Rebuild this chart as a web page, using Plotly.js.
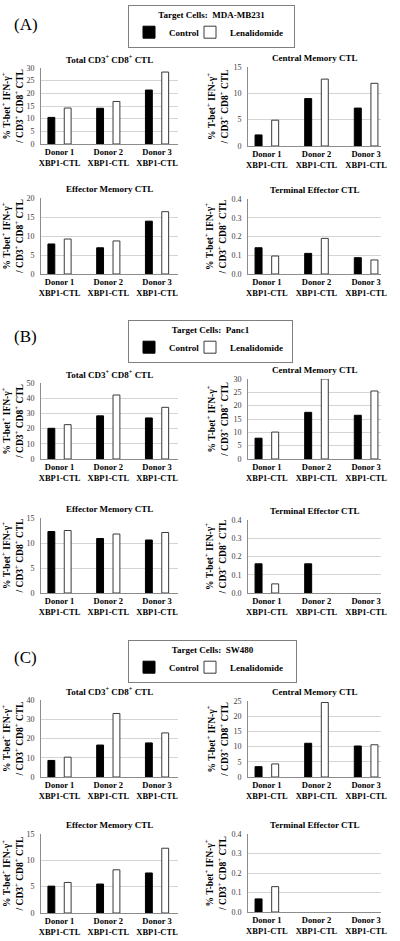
<!DOCTYPE html>
<html>
<head>
<meta charset="utf-8">
<script src="https://cdn.plot.ly/plotly-3.0.1.min.js"></script>
<style>html,body{margin:0;padding:0;background:#fff;}#chart{width:400px;height:941px;}</style>
</head>
<body>
<div id="chart"></div>
<script>
// ---- data ----
const donors = ['Donor 1<br>XBP1-CTL', 'Donor 2<br>XBP1-CTL', 'Donor 3<br>XBP1-CTL'];
const seriesNames = ['Control', 'Lenalidomide'];
const panelLabels = ['(A)', '(B)', '(C)'];
const targetCells = ['MDA-MB231', 'Panc1', 'SW480'];
const subsetTitles = ['Total CD3<sup>+</sup> CD8<sup>+</sup> CTL', 'Central Memory CTL', 'Effector Memory CTL', 'Terminal Effector CTL'];
const yTitle = '% T-bet<sup>+</sup> IFN-γ<sup>+</sup><br>/ CD3<sup>+</sup> CD8<sup>+</sup> CTL';

// Panel A (MDA-MB231)
const A_total_control = [10.5, 14.1, 21.3];
const A_total_len = [14.2, 16.8, 28.4];
const A_central_control = [2.1, 9.0, 7.2];
const A_central_len = [4.9, 12.7, 11.9];
const A_effector_control = [7.9, 6.9, 13.9];
const A_effector_len = [9.2, 8.7, 16.4];
const A_terminal_control = [0.14, 0.11, 0.087];
const A_terminal_len = [0.096, 0.19, 0.075];
// Panel B (Panc1)
const B_total_control = [20.2, 28.4, 27.0];
const B_total_len = [22.6, 42.1, 34.0];
const B_central_control = [7.8, 17.5, 16.4];
const B_central_len = [10.1, 30.0, 25.5];
const B_effector_control = [12.3, 10.9, 10.6];
const B_effector_len = [12.5, 11.8, 12.1];
const B_terminal_control = [0.16, 0.16, 0];
const B_terminal_len = [0.05, 0, 0];
// Panel C (SW480)
const C_total_control = [8.6, 16.6, 17.7];
const C_total_len = [10.3, 33.0, 22.9];
const C_central_control = [3.4, 11.1, 10.2];
const C_central_len = [4.3, 24.5, 10.6];
const C_effector_control = [5.1, 5.5, 7.6];
const C_effector_len = [5.8, 8.2, 12.3];
const C_terminal_control = [0.067, 0, 0];
const C_terminal_len = [0.13, 0, 0];

// axis maxima / tick steps per subplot
const yMax = [[30, 15, 20, 0.4], [50, 30, 15, 0.4], [40, 25, 15, 0.4]];
const yStep = [[5, 5, 5, 0.1], [10, 5, 5, 0.1], [10, 5, 5, 0.1]];

const panelData = [
  [[A_total_control, A_total_len], [A_central_control, A_central_len], [A_effector_control, A_effector_len], [A_terminal_control, A_terminal_len]],
  [[B_total_control, B_total_len], [B_central_control, B_central_len], [B_effector_control, B_effector_len], [B_terminal_control, B_terminal_len]],
  [[C_total_control, C_total_len], [C_central_control, C_central_len], [C_effector_control, C_effector_len], [C_terminal_control, C_terminal_len]]
];

// ---- geometry (pixels) ----
const W = 400, H = 941;
const px = v => v / W;
const py = v => 1 - v / H;
// [x0, x1, yTop, yZero] for each subplot, per panel
const geom = [
  [[41, 178, 68, 144], [248, 381, 67, 146], [41, 178, 198, 274], [248, 381, 199, 274]],
  [[41, 178, 383, 459], [248, 381, 379, 459], [41, 178, 518, 593], [248, 381, 520, 593]],
  [[41, 178, 700, 777], [248, 381, 701, 777], [41, 178, 834, 913], [248, 381, 834, 912]]
];
const legendGeom = [[128, 5], [128, 320], [128, 640]];
const legendBoxW = 167;
const labelGeom = [[12, 24], [12, 337], [12, 657]];

const serifName = 'Liberation Serif';
const serif = "'Liberation Serif', 'Times New Roman', 'DejaVu Serif', serif";
const colors = ['#000000', '#ffffff'];
const lineColors = ['#000000', '#3a3a3a'];
const legFont = 9;

// pad legend titles so every legend box has the same width
const cv = document.createElement('canvas').getContext('2d');
cv.font = 'bold ' + legFont + "px '" + serifName + "'";
const enSp = '\u2002';
const enW = cv.measureText(enSp).width || legFont / 2;
function padTitle(t) {
  const w = cv.measureText(t).width;
  const n = Math.max(0, Math.round((legendBoxW - 6 - w) / (2 * enW)));
  const p = enSp.repeat(n);
  return p + t + p;
}

const traces = [];
const layout = {
  width: W, height: H,
  margin: {l: 0, r: 0, t: 0, b: 0},
  paper_bgcolor: '#fff', plot_bgcolor: 'rgba(0,0,0,0)',
  font: {family: serif, color: '#000'},
  barmode: 'group', bargap: 0.33, bargroupgap: 0.58,
  annotations: [], showlegend: true
};

for (let p = 0; p < 3; p++) {
  const legId = p === 0 ? 'legend' : 'legend' + (p + 1);
  layout[legId] = {
    x: px(legendGeom[p][0]), xanchor: 'left', y: py(legendGeom[p][1]), yanchor: 'top',
    orientation: 'h', bordercolor: '#7f7f7f', borderwidth: 1, bgcolor: '#fff',
    font: {family: serif, size: legFont, weight: 'bold', color: '#000'},
    title: {text: padTitle('Target Cells:  ' + targetCells[p]), side: 'top center', font: {family: serif, size: legFont, weight: 'bold', color: '#000'}},
    entrywidth: 16, itemwidth: 30, tracegroupgap: 0
  };
  layout.annotations.push({
    text: panelLabels[p], xref: 'paper', yref: 'paper', x: px(labelGeom[p][0]), y: py(labelGeom[p][1]),
    xanchor: 'left', yanchor: 'middle', showarrow: false, font: {family: serif, size: 17, color: '#000'}
  });
  for (let s = 0; s < 4; s++) {
    const k = p * 4 + s + 1;
    const xid = k === 1 ? 'x' : 'x' + k;
    const yid = k === 1 ? 'y' : 'y' + k;
    const g = geom[p][s];
    const isLeft = (s % 2 === 0);
    for (let t = 0; t < 2; t++) {
      const vals = panelData[p][s][t];
      traces.push({
        type: 'bar', name: seriesNames[t], x: donors, y: vals,
        xaxis: xid, yaxis: yid, legend: legId, showlegend: s === 0,
        marker: {color: colors[t], line: {color: lineColors[t], width: vals.map(v => v > 0 ? 1 : 0)}},
        hoverinfo: 'x+y+name'
      });
    }
    const xa = 'xaxis' + (k === 1 ? '' : k);
    const ya = 'yaxis' + (k === 1 ? '' : k);
    layout[xa] = {
      domain: [px(g[0]), px(g[1])], anchor: yid, type: 'category',
      range: isLeft ? [-0.38, 2.43] : [-0.38, 2.3],
      showline: true, linecolor: '#8c8c8c', linewidth: 1, ticks: '', showgrid: false,
      tickfont: {family: serif, size: 8.5, weight: 'bold', color: '#000'}, tickangle: 0, fixedrange: true
    };
    const mx = yMax[p][s], st = yStep[p][s];
    layout[ya] = {
      domain: [py(g[3]), py(g[2])], anchor: xid, range: [0, mx], dtick: st, tick0: 0,
      tickformat: st < 1 ? '.1f' : 'd',
      showline: true, linecolor: '#8c8c8c', linewidth: 1, ticks: '', ticklabelstandoff: 4,
      showgrid: true, gridcolor: '#d4d4d4', gridwidth: 1, zeroline: false,
      tickfont: {family: serif, size: 8, color: '#3c3c3c'},
      title: {text: yTitle, standoff: isLeft ? 1 : 3, font: {family: serif, size: 9.5, weight: 'bold', color: '#000'}},
      fixedrange: true
    };
    layout.annotations.push({
      text: subsetTitles[s], xref: 'paper', yref: 'paper',
      x: px((g[0] + g[1]) / 2), y: py(g[2] - 9), xanchor: 'center', yanchor: 'middle', showarrow: false,
      font: {family: serif, size: 9, weight: 'bold', color: '#000'}
    });
  }
}

Plotly.newPlot('chart', traces, layout, {staticPlot: true, displayModeBar: false});
</script>
</body>
</html>
